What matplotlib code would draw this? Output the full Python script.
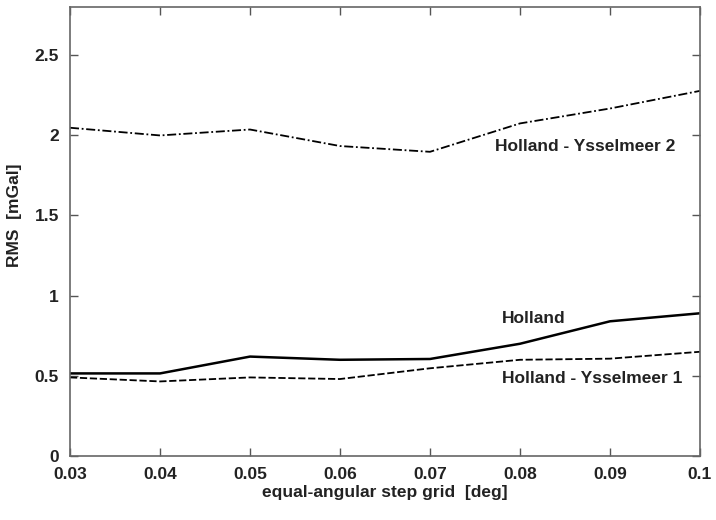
import matplotlib.pyplot as plt

# grid step sizes and RMS values for each area
steps = [0.03, 0.04, 0.05, 0.06, 0.07, 0.08, 0.09, 0.10]
holland = [0.515, 0.515, 0.62, 0.60, 0.605, 0.70, 0.84, 0.89]
ysselmeer_1 = [0.49, 0.465, 0.49, 0.48, 0.547, 0.60, 0.607, 0.65]
ysselmeer_2 = [2.047, 1.999, 2.036, 1.933, 1.897, 2.074, 2.167, 2.277]

plt.rcParams['font.family'] = ['Liberation Sans', 'DejaVu Sans']
plt.rcParams['font.weight'] = 'bold'

fig = plt.figure(figsize=(7.16, 5.2), dpi=100)
ax = fig.add_axes([70 / 716, 1 - 456 / 520, 630 / 716, 449 / 520])

ax.plot(steps, holland, color='black', lw=1.8, ls='-')
ax.plot(steps, ysselmeer_1, color='black', lw=1.3, ls=(0, (4, 1.5)))
ax.plot(steps, ysselmeer_2, color='black', lw=1.3, ls=(0, (5, 1.5, 1, 1.5)))

# line labels
lbl = dict(fontsize=12.5, fontweight='bold', color='#222222')
ax.text(0.0772, 1.93, 'Holland - Ysselmeer 2', va='center', **lbl)
ax.text(0.078, 0.86, 'Holland', va='center', **lbl)
ax.text(0.078, 0.485, 'Holland - Ysselmeer 1', va='center', **lbl)

ax.set_xlim(0.03, 0.1)
ax.set_ylim(0, 2.8)
ax.set_xticks([0.03, 0.04, 0.05, 0.06, 0.07, 0.08, 0.09, 0.1])
ax.set_xticklabels(['0.03', '0.04', '0.05', '0.06', '0.07', '0.08', '0.09', '0.1'])
ax.set_yticks([0, 0.5, 1, 1.5, 2, 2.5])
ax.set_yticklabels(['0', '0.5', '1', '1.5', '2', '2.5'])
ax.tick_params(direction='in', top=True, right=True, length=6, width=1,
               color='#555555', labelsize=12.5, labelcolor='#222222', pad=8)

for s in ax.spines.values():
    s.set_color('#666666')
    s.set_linewidth(1.2)

ax.set_xlabel('equal-angular step grid  [deg]', fontsize=12.5, fontweight='bold',
              color='#222222', labelpad=2)
ax.set_ylabel('RMS  [mGal]', fontsize=12.5, fontweight='bold', color='#222222')
ax.yaxis.set_label_coords(-0.076, 0.537)

fig.savefig('out.png', dpi=100)
